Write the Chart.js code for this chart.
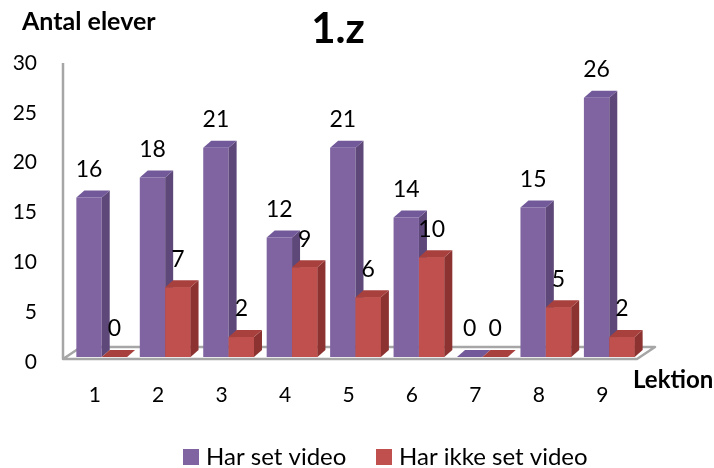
<!DOCTYPE html>
<html>
<head>
<meta charset="utf-8">
<script src="https://cdn.jsdelivr.net/npm/chart.js@4/dist/chart.umd.min.js"></script>
<style>
  html, body { margin: 0; padding: 0; background: #fff; }
  #wrap { width: 714px; height: 468px; }
</style>
</head>
<body>
<div id="wrap"><canvas id="c" width="714" height="468"></canvas></div>
<script>
// Lessons and pupil counts per lesson
const lektioner = ['1', '2', '3', '4', '5', '6', '7', '8', '9'];
const harSetVideo = [16, 18, 21, 12, 21, 14, 0, 15, 26];
const harIkkeSetVideo = [0, 7, 2, 9, 6, 10, 0, 5, 2];
const yTicks = [0, 5, 10, 15, 20, 25, 30];
const seriesNames = ['Har set video', 'Har ikke set video'];
const chartTitle = '1.z';
const yAxisTitle = 'Antal elever';
const xAxisTitle = 'Lektion';

const FONT = 'Lato, "Open Sans", sans-serif';
const faceColors = [
  { front: '#8064A2', side: '#5D4879', top: '#72599A' },
  { front: '#C0504D', side: '#8C3331', top: '#A8413E' }
];
const DEPTH_X = 8, DEPTH_Y = 7;

function poly(ctx, pts, color) {
  ctx.beginPath();
  ctx.moveTo(pts[0][0], pts[0][1]);
  for (let i = 1; i < pts.length; i++) ctx.lineTo(pts[i][0], pts[i][1]);
  ctx.closePath();
  ctx.fillStyle = color;
  ctx.fill();
}

// Floor outline and back wall edge
const floorPlugin = {
  id: 'floor',
  beforeDatasetsDraw(chart) {
    const { ctx, chartArea: a } = chart;
    ctx.save();
    ctx.strokeStyle = '#A6A6A6';
    ctx.lineWidth = 2.5;
    ctx.lineJoin = 'round';
    ctx.beginPath();
    ctx.moveTo(a.left - 7, a.top + 5);
    ctx.lineTo(a.left - 7, a.bottom + 2);
    ctx.lineTo(a.right - 4, a.bottom + 2);
    ctx.lineTo(a.right + 14, a.bottom - 10);
    ctx.lineTo(a.left + 11, a.bottom - 10);
    ctx.lineTo(a.left - 7, a.bottom + 2);
    ctx.stroke();
    ctx.restore();
  }
};

// Side and top faces for every column, built from the bar elements
const columnPlugin = {
  id: 'columns3d',
  afterDatasetsDraw(chart) {
    const ctx = chart.ctx;
    const metas = chart.data.datasets.map((d, k) => chart.getDatasetMeta(k));
    const n = chart.data.labels.length;
    ctx.save();
    for (let i = 0; i < n; i++) {
      metas.forEach((meta, k) => {
        const el = meta.data[i];
        const p = el.getProps(['x', 'y', 'base', 'width'], true);
        const l = p.x - p.width / 2, r = p.x + p.width / 2;
        if (k > 0) el.draw(ctx);
        const c = faceColors[k];
        poly(ctx, [[r, p.y], [r + DEPTH_X, p.y - DEPTH_Y], [r + DEPTH_X, p.base - DEPTH_Y], [r, p.base]], c.side);
        poly(ctx, [[l, p.y], [r, p.y], [r + DEPTH_X, p.y - DEPTH_Y], [l + DEPTH_X, p.y - DEPTH_Y]], c.top);
      });
    }
    ctx.restore();
  }
};

// Value labels, titles and legend
const textPlugin = {
  id: 'texts',
  afterDraw(chart) {
    const ctx = chart.ctx;
    ctx.save();
    ctx.fillStyle = '#000';
    ctx.font = '23px ' + FONT;
    ctx.textAlign = 'center';
    ctx.textBaseline = 'middle';
    chart.data.datasets.forEach((ds, k) => {
      const meta = chart.getDatasetMeta(k);
      meta.data.forEach((el, i) => {
        ctx.fillText(String(ds.data[i]), el.x, el.y - 28);
      });
    });

    ctx.textBaseline = 'alphabetic';
    ctx.font = 'bold 42px ' + FONT;
    ctx.fillText(chartTitle, 338, 43);

    ctx.textAlign = 'left';
    ctx.font = 'bold 25px ' + FONT;
    ctx.fillText(yAxisTitle, 22, 30);
    ctx.font = 'bold 24px ' + FONT;
    ctx.fillText(xAxisTitle, 633, 388);

    const legendX = [183, 376];
    ctx.font = '24px ' + FONT;
    chart.data.datasets.forEach((ds, k) => {
      ctx.fillStyle = ds.backgroundColor;
      ctx.fillRect(legendX[k], 449, 16, 16);
      ctx.fillStyle = '#000';
      ctx.fillText(ds.label, legendX[k] + 23, 465);
    });
    ctx.restore();
  }
};

new Chart(document.getElementById('c'), {
  type: 'bar',
  data: {
    labels: lektioner,
    datasets: [
      { label: seriesNames[0], data: harSetVideo, backgroundColor: faceColors[0].front },
      { label: seriesNames[1], data: harIkkeSetVideo, backgroundColor: faceColors[1].front }
    ]
  },
  options: {
    responsive: false,
    animation: false,
    devicePixelRatio: 1,
    layout: { padding: { top: 58, right: 73, left: 0, bottom: 0 } },
    datasets: { bar: { categoryPercentage: 0.8, barPercentage: 1.0, borderWidth: 0 } },
    plugins: { legend: { display: false }, title: { display: false }, tooltip: { enabled: false } },
    scales: {
      x: {
        grid: { display: false, drawTicks: false },
        border: { display: false },
        ticks: { color: '#000', font: { size: 21, family: FONT }, padding: 26, labelOffset: -7 },
        afterFit: s => { s.height = 111; }
      },
      y: {
        min: yTicks[0],
        max: yTicks[yTicks.length - 1],
        afterBuildTicks: s => { s.ticks = yTicks.map(v => ({ value: v })); },
        grid: { display: false, drawTicks: false },
        border: { display: false },
        ticks: { color: '#000', font: { size: 21, family: FONT }, padding: 33, labelOffset: 5 },
        afterFit: s => { s.width = 70; }
      }
    }
  },
  plugins: [floorPlugin, columnPlugin, textPlugin]
});
</script>
</body>
</html>
